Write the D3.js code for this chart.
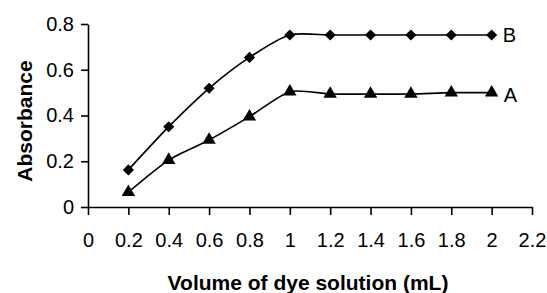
<!DOCTYPE html>
<html lang="en">
<head>
    <meta charset="UTF-8" />
    <title>Absorbance</title>
    <style>
        body { margin: 0; background: #fff; }
        text { font-family: "Liberation Sans", Arial, sans-serif; fill: #000; }
    </style>
</head>
<body>
    <div id="container"></div>
</body>
<script src="https://cdnjs.cloudflare.com/ajax/libs/d3/7.8.5/d3.min.js"></script>
<script>
    let volume = [0.2, 0.4, 0.6, 0.8, 1.0, 1.2, 1.4, 1.6, 1.8, 2.0],
        seriesA = [0.065, 0.205, 0.293, 0.395, 0.504, 0.494, 0.494, 0.494, 0.5, 0.5],
        seriesB = [0.162, 0.351, 0.519, 0.654, 0.752, 0.752, 0.752, 0.752, 0.752, 0.752],
        xTicks = [0, 0.2, 0.4, 0.6, 0.8, 1, 1.2, 1.4, 1.6, 1.8, 2, 2.2],
        yTicks = [0, 0.2, 0.4, 0.6, 0.8];

    let width = 547, height = 293;
    let x = d3.scaleLinear().domain([0, 2.2]).range([88, 532]);
    let y = d3.scaleLinear().domain([0, 0.8]).range([207, 24]);

    let svg = d3.select("#container").append("svg").attr("width", width).attr("height", height);

    // axes
    svg.append("g").attr("transform", `translate(0,${y(0)})`)
        .call(d3.axisBottom(x).tickValues(xTicks).tickSize(8).tickSizeOuter(0).tickPadding(18)
            .tickFormat(d => d3.format("~g")(d)));
    svg.append("g").attr("transform", `translate(${x(0)},0)`)
        .call(d3.axisLeft(y).tickValues(yTicks).tickSize(7).tickSizeOuter(0).tickPadding(7)
            .tickFormat(d => d3.format("~g")(d)));
    svg.selectAll(".domain, .tick line").attr("stroke", "#000").attr("stroke-width", 1.6);
    svg.selectAll(".tick text").style("font-size", "20px");

    // lines
    let line = d3.line().x((d, i) => x(volume[i])).y(d => y(d)).curve(d3.curveCardinal.tension(0.3));
    [seriesA, seriesB].forEach(s => {
        svg.append("path").attr("d", line(s)).attr("fill", "none").attr("stroke", "#000").attr("stroke-width", 1.7);
    });

    // markers
    svg.selectAll(".ptB").data(seriesB).enter().append("path")
        .attr("d", d3.symbol(d3.symbolSquare, 62)())
        .attr("transform", (d, i) => `translate(${x(volume[i])},${y(d)}) rotate(45)`);
    svg.selectAll(".ptA").data(seriesA).enter().append("path")
        .attr("d", d3.symbol(d3.symbolTriangle, 78)())
        .attr("transform", (d, i) => `translate(${x(volume[i])},${y(d)})`);

    // series labels
    svg.append("text").attr("x", x(2.0) + 11).attr("y", y(seriesB[9]) + 7).style("font-size", "20px").text("B");
    svg.append("text").attr("x", x(2.0) + 12).attr("y", y(seriesA[9]) + 9).style("font-size", "20px").text("A");

    // titles
    svg.append("text").attr("x", 308).attr("y", 290).attr("text-anchor", "middle")
        .style("font-size", "21px").style("font-weight", "bold").text("Volume of dye solution (mL)");
    svg.append("text").attr("transform", "translate(32,121) rotate(-90)").attr("text-anchor", "middle")
        .style("font-size", "21px").style("font-weight", "bold").text("Absorbance");
</script>
</html>
